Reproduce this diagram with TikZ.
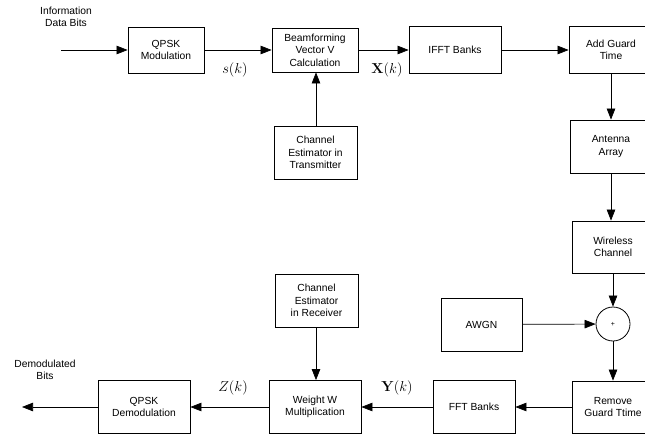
\documentclass[tikz,border=0pt]{standalone}
\usepackage{amsmath}
\usepackage[no-math]{fontspec}
\setmainfont{Liberation Sans}
\usetikzlibrary{arrows.meta}

\begin{document}
\begin{tikzpicture}[x=1pt,y=-1pt,
  blk/.style={draw,line width=0.8pt,align=center,inner sep=0pt,
    font=\fontsize{10.3}{12.6}\selectfont},
  lbl/.style={align=center,font=\fontsize{10.3}{12.6}\selectfont},
  sig/.style={font=\fontsize{14}{16}\selectfont},
  wire/.style={line width=0.7pt,-{Triangle[length=11pt,width=8.5pt]}}]
\useasboundingbox (0,0) rectangle (645,436);
% transmitter
\node[blk,minimum width=76pt,minimum height=46pt] (qpskmod) at (166,50) {QPSK\\Modulation};
\node[blk,minimum width=86pt,minimum height=44pt] (beam) at (315,50) {Beamforming\\Vector V\\Calculation};
\node[blk,minimum width=83pt,minimum height=53pt] (esttx) at (315.5,152.5) {Channel\\Estimator in\\Transmitter};
\node[blk,minimum width=92pt,minimum height=47pt] (ifft) at (455,50) {IFFT Banks};
\node[blk,minimum width=84pt,minimum height=47pt] (guard) at (611,50) {Add Guard\\Time};
\node[blk,minimum width=82pt,minimum height=53pt] (antenna) at (611,146.5) {Antenna\\Array};
% channel
\node[blk,minimum width=82pt,minimum height=52pt] (wireless) at (613,247) {Wireless\\Channel};
\node[draw,line width=0.8pt,circle,minimum size=34pt,inner sep=0pt,font=\fontsize{7}{8}\selectfont] (sum) at (613,324) {+};
\node[blk,minimum width=81pt,minimum height=53pt] (awgn) at (481.5,324.5) {AWGN};
% receiver
\node[blk,minimum width=82pt,minimum height=52pt] (remove) at (613,407) {Remove\\Guard Ttime};
\node[blk,minimum width=82pt,minimum height=53pt] (fft) at (474,407) {FFT Banks};
\node[blk,minimum width=92pt,minimum height=53pt] (weight) at (315,407) {Weight W\\Multiplication};
\node[blk,minimum width=83pt,minimum height=53pt] (estrx) at (316.5,300.5) {Channel\\Estimator\\in Receiver};
\node[blk,minimum width=92pt,minimum height=53pt] (qpskdemod) at (144,407) {QPSK\\Demodulation};
\node[lbl] (info) at (66,17) {Information\\Data Bits};
\node[lbl] (demod) at (45,370) {Demodulated\\Bits};
\coordinate (in) at (61,50);
\coordinate (out) at (22,407);
% signal names
\node[sig] (sk) at (235,70) {$s(k)$};
\node[sig] (xk) at (387,70) {$\mathbf{X}(k)$};
\node[sig] (zk) at (233,388) {$Z(k)$};
\node[sig] (yk) at (397,388) {$\mathbf{Y}(k)$};
% connections
\draw[wire] (in) -- (qpskmod);
\draw[wire] (qpskmod) -- (beam);
\draw[wire] (esttx.north -| 316,0) -- (beam.south -| 316,0);
\draw[wire] (beam) -- (ifft);
\draw[wire] (ifft) -- (guard);
\draw[wire] (guard) -- (antenna);
\draw[wire] (antenna) -- (wireless.north -| antenna);
\draw[wire] (wireless) -- (sum);
\draw[wire] (awgn) -- (sum);
\draw[wire] (sum) -- (remove);
\draw[wire] (remove) -- (fft);
\draw[wire] (fft) -- (weight);
\draw[wire] (estrx.south -| 316,0) -- (weight.north -| 316,0);
\draw[wire] (weight) -- (qpskdemod);
\draw[wire] (qpskdemod) -- (out);
\end{tikzpicture}
\end{document}
